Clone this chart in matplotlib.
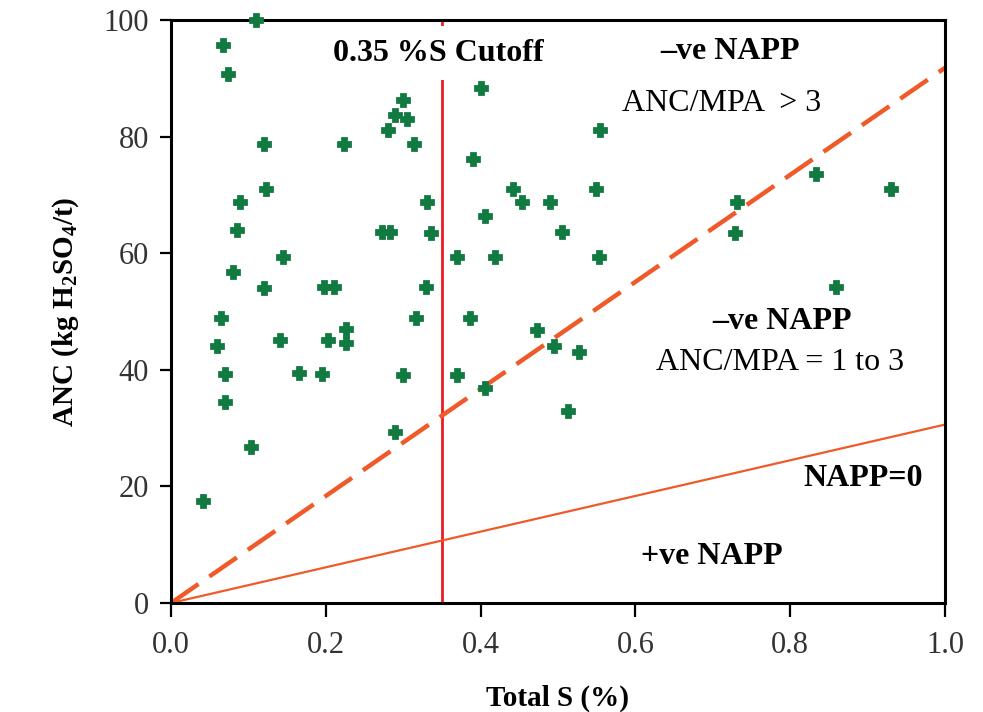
import matplotlib
matplotlib.use('Agg')
import matplotlib.pyplot as plt
import numpy as np

plt.rcParams['font.family'] = ['Liberation Serif', 'DejaVu Serif']
plt.rcParams['mathtext.fontset'] = 'custom'
plt.rcParams['mathtext.rm'] = 'Liberation Serif'
plt.rcParams['mathtext.bf'] = 'Liberation Serif:bold'

# total sulfur (%) and acid neutralising capacity (kg H2SO4/t) per sample
total_s = [0.041, 0.067, 0.074, 0.110, 0.089, 0.085, 0.080, 0.065, 0.060, 0.070,
           0.070, 0.103, 0.120, 0.123, 0.120, 0.145, 0.141, 0.165, 0.195, 0.197,
           0.210, 0.203, 0.226, 0.226, 0.224, 0.272, 0.283, 0.280, 0.289, 0.300,
           0.305, 0.314, 0.331, 0.336, 0.329, 0.317, 0.300, 0.289, 0.370, 0.370,
           0.386, 0.390, 0.401, 0.406, 0.406, 0.419, 0.442, 0.454, 0.473, 0.490,
           0.495, 0.505, 0.513, 0.527, 0.549, 0.553, 0.554, 0.729, 0.731, 0.833,
           0.859, 0.930]
anc = [17.5, 95.7, 90.7, 100.0, 68.8, 64.0, 56.8, 48.9, 44.1, 39.3,
       34.5, 26.8, 78.7, 71.0, 54.0, 59.3, 45.1, 39.5, 39.3, 54.2,
       54.2, 45.1, 47.0, 44.6, 78.7, 63.6, 63.6, 81.1, 83.7, 86.3,
       83.0, 78.7, 68.8, 63.5, 54.2, 48.9, 39.1, 29.3, 59.3, 39.1,
       48.9, 76.1, 88.3, 66.4, 36.9, 59.3, 71.0, 68.8, 46.8, 68.8,
       44.1, 63.6, 32.9, 43.1, 71.0, 59.3, 81.1, 63.5, 68.8, 73.6,
       54.2, 71.0]

mpa_factor = 30.6       # kg H2SO4/t per %S
cutoff_s = 0.35
xticks = [0.0, 0.2, 0.4, 0.6, 0.8, 1.0]
yticks = [0, 20, 40, 60, 80, 100]

fig = plt.figure(figsize=(9.83, 7.12), dpi=100)
ax = fig.add_axes([0.174, 0.1531, 0.7873, 0.8188])

line_col = '#f05a28'
s_line = np.array([0.0, 1.0])
ax.plot(s_line, mpa_factor * s_line, color=line_col, lw=1.6, zorder=2)
ax.plot(s_line, 3 * mpa_factor * s_line, color=line_col, lw=3.2,
        dashes=(7.5, 3), zorder=2)
ax.axvline(cutoff_s, color='#ed1c24', lw=2, zorder=1)

ax.plot(total_s, anc, 'P', color='#117a41', markersize=8.5,
        markeredgewidth=2, markeredgecolor='#117a41', zorder=3, clip_on=False)

bold = dict(fontsize=23, fontweight='bold', ha='center', va='center')
reg = dict(fontsize=23, ha='center', va='center')
ax.text(0.346, 94.3, '0.35 %S Cutoff', zorder=4,
        bbox=dict(facecolor='white', edgecolor='none', pad=9), **bold)
ax.text(0.722, 94.6, '–ve NAPP', **bold)
ax.text(0.712, 85.6, 'ANC/MPA  > 3', **reg)
ax.text(0.789, 48.2, '–ve NAPP', **bold)
ax.text(0.787, 41.3, 'ANC/MPA = 1 to 3', **reg)
ax.text(0.894, 21.4, 'NAPP=0', **bold)
ax.text(0.699, 7.9, '+ve NAPP', **bold)

ax.set_xlim(0, 1.0)
ax.set_ylim(0, 100)
ax.set_xticks(xticks)
ax.set_xticklabels(['%.1f' % t for t in xticks])
ax.set_yticks(yticks)
for sp in ax.spines.values():
    sp.set_linewidth(2.2)
ax.tick_params(axis='x', direction='out', length=10, width=1.6, labelsize=22,
               pad=10, colors='black', labelcolor='#333333')
ax.tick_params(axis='y', direction='out', length=8, width=1.6, labelsize=22,
               pad=8, colors='black', labelcolor='#333333')

ax.set_xlabel('Total S (%)', fontsize=21, fontweight='bold', labelpad=18)
ax.set_ylabel(r'ANC (kg H$_\mathbf{2}$SO$_\mathbf{4}$/t)', fontsize=21,
              fontweight='bold', labelpad=16)

fig.savefig('out.png', dpi=100, facecolor='white')
